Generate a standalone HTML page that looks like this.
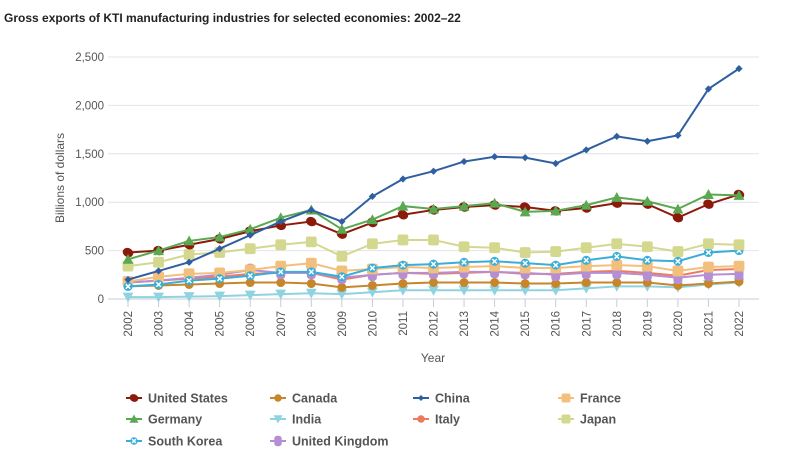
<!DOCTYPE html>
<html><head><meta charset="utf-8"><style>
body{margin:0;background:#fff;font-family:"Liberation Sans",sans-serif}
svg{display:block}
</style></head><body>
<svg id="c" width="787" height="461">
<text x="4" y="22" font-size="12" font-weight="bold" fill="#222">Gross exports of KTI manufacturing industries for selected economies: 2002–22</text>
<text transform="translate(64,178) rotate(-90)" text-anchor="middle" font-size="12" fill="#555">Billions of dollars</text>
<text x="433" y="362" text-anchor="middle" font-size="12" fill="#555">Year</text>
<g id="grid"></g><g id="series"></g><g id="legend"></g>
</svg>
<script>
const years=[2002,2003,2004,2005,2006,2007,2008,2009,2010,2011,2012,2013,2014,2015,2016,2017,2018,2019,2020,2021,2022];
const yTicks=[0,500,1000,1500,2000,2500];
const yTickLabels=["0","500","1,000","1,500","2,000","2,500"];
const seriesNames=["United States","Canada","China","France","Germany","India","Italy","Japan","South Korea","United Kingdom"];
const usVals=[480,500,560,620,700,760,800,670,790,870,920,950,970,950,910,940,990,980,840,980,1080];
const canadaVals=[130,140,150,160,170,170,160,120,140,160,170,170,170,160,160,170,170,170,140,160,180];
const chinaVals=[200,290,380,520,660,800,920,800,1060,1240,1320,1420,1470,1460,1400,1540,1680,1630,1690,2170,2380];
const franceVals=[180,230,260,270,300,340,370,290,310,330,320,330,340,320,320,340,350,340,290,330,340];
const germanyVals=[410,500,600,640,720,840,920,720,820,960,930,960,990,900,910,970,1050,1010,930,1080,1070];
const indiaVals=[20,20,25,30,40,50,60,50,70,90,90,90,90,90,90,110,130,130,120,150,170];
const italyVals=[170,190,210,230,260,270,270,200,250,270,260,270,280,260,260,280,290,270,240,300,310];
const japanVals=[340,380,460,480,520,560,590,440,570,610,610,540,530,480,490,530,570,540,490,570,560];
const koreaVals=[130,150,190,210,240,280,280,230,320,350,360,380,390,370,350,400,440,400,390,480,500];
const ukVals=[170,190,220,250,300,270,270,220,250,270,270,280,280,270,250,270,270,250,220,250,260];
const NS="http://www.w3.org/2000/svg";
const X0=128,X1=739,Y0=299,Y1=57;
const xs=i=>X0+(X1-X0)*i/(years.length-1);
const ys=v=>Y0-(Y0-Y1)*v/2500;
function mk(t,a,p){const e=document.createElementNS(NS,t);for(const k in a)e.setAttribute(k,a[k]);p.appendChild(e);return e;}
const grid=document.getElementById('grid');
yTicks.forEach((v,i)=>{
 const l=mk('line',{x1:X0-20,x2:X1+20,y1:ys(v),y2:ys(v),stroke:i==0?'#c8ccd8':'#e2e4ea','stroke-width':1},grid);
 
 
 const t=mk('text',{x:104,y:ys(v)+4,'text-anchor':'end','font-size':11.5,fill:'#555'},grid);t.textContent=yTickLabels[i];
 
 
});
years.forEach((y,i)=>{
 const l=mk('line',{x1:xs(i),x2:xs(i),y1:Y0,y2:Y0+8,stroke:'#c8ccd8'},grid);
 
 
 const t=mk('text',{transform:`translate(${xs(i)+4},${Y0+12}) rotate(-90)`,'text-anchor':'end','font-size':11.5,fill:'#555'},grid);t.textContent=y;
 
 
});
const defs=[
 ["India",indiaVals,'#8fd3e0','tri-down'],
 ["Canada",canadaVals,'#c8862a','circle'],
 ["Italy",italyVals,'#ee7a5e','circle'],
 ["United Kingdom",ukVals,'#b48fd4','ukm'],
 ["France",franceVals,'#f3bf7c','square'],
 ["South Korea",koreaVals,'#3aaed8','xcircle'],
 ["Japan",japanVals,'#d4d88e','square'],
 ["United States",usVals,'#8b1a0a','ellipse'],
 ["Germany",germanyVals,'#5aa850','tri'],
 ["China",chinaVals,'#2f5fa0','diamond']];
function marker(g,type,x,y,c,s){
 s=s||0.9;
 if(type=='circle')return mk('circle',{cx:x,cy:y,r:5*s,fill:c},g);
 if(type=='ellipse')return mk('ellipse',{cx:x,cy:y,rx:6*s,ry:5*s,fill:c,transform:`rotate(25,${x},${y})`},g);
 if(type=='square')return mk('rect',{x:x-6*s,y:y-6*s,width:12*s,height:12*s,rx:2,fill:c},g);
 if(type=='tri')return mk('path',{d:`M${x},${y-6*s}L${x+6*s},${y+5*s}L${x-6*s},${y+5*s}Z`,fill:c},g);
 if(type=='tri-down')return mk('path',{d:`M${x},${y+6*s}L${x+6*s},${y-5*s}L${x-6*s},${y-5*s}Z`,fill:c},g);
 if(type=='diamond')return mk('path',{d:`M${x},${y-4*s}L${x+4*s},${y}L${x},${y+4*s}L${x-4*s},${y}Z`,fill:c},g);
 if(type=='xcircle'){const e=mk('circle',{cx:x,cy:y,r:5*s,fill:c},g);mk('path',{d:`M${x-2.5*s},${y-2.5*s}L${x+2.5*s},${y+2.5*s}M${x+2.5*s},${y-2.5*s}L${x-2.5*s},${y+2.5*s}`,stroke:'#fff','stroke-width':1.5},g);return e;}
 if(type=='ukm')return mk('rect',{x:x-5*s,y:y-7*s,width:10*s,height:14*s,rx:4*s,fill:c},g);
}
const sg=document.getElementById('series');
defs.forEach(([name,vals,c,type])=>{
 const g=mk('g',{},sg);
 
 
 const pl=mk('polyline',{points:vals.map((v,i)=>xs(i)+','+ys(v)).join(' '),fill:'none',stroke:c,'stroke-width':2},g);
 
 
 vals.forEach((v,i)=>{const m=marker(g,type,xs(i),ys(v),c);
  
  });
});
const legendItems=[["United States",'#8b1a0a','ellipse'],["Canada",'#c8862a','circle'],["China",'#2f5fa0','diamond'],["France",'#f3bf7c','square'],["Germany",'#5aa850','tri'],["India",'#8fd3e0','tri-down'],["Italy",'#ee7a5e','circle'],["Japan",'#d4d88e','square'],["South Korea",'#3aaed8','xcircle'],["United Kingdom",'#b48fd4','ukm']];
const lg=document.getElementById('legend');
const colX=[126,270,413,558],rowY=[398,419,441];
legendItems.forEach(([n,c,t],i)=>{
 const x=colX[i%4],y=rowY[Math.floor(i/4)];
 const g=mk('g',{},lg);
 
 
 mk('line',{x1:x,x2:x+16,y1:y,y2:y,stroke:c,'stroke-width':2},g);
 marker(g,t,x+8,y,c,0.75);
 const tx=mk('text',{x:x+22,y:y+4.5,'font-size':12.5,'font-weight':'bold',fill:'#555'},g);tx.textContent=n;
});
</script>
</body></html>
